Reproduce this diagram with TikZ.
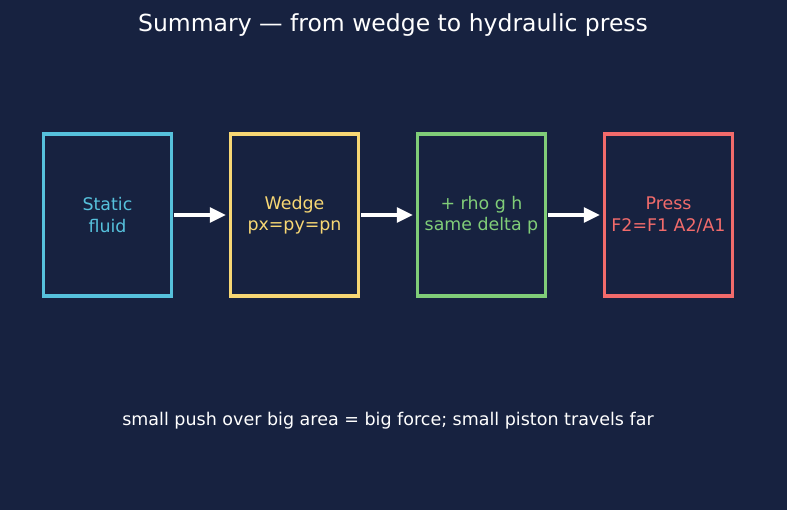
\documentclass[tikz,border=0pt]{standalone}
\usepackage{fontspec}
\setmainfont{DejaVu Sans}
\usetikzlibrary{arrows.meta}
\definecolor{bgc}{HTML}{172240}
\definecolor{cyanc}{HTML}{56C1DC}
\definecolor{yellowc}{HTML}{F7D774}
\definecolor{greenc}{HTML}{80CD78}
\definecolor{redc}{HTML}{F26B6B}
\tikzset{
  stagebox/.style={draw=#1, text=#1, line width=3.5pt, fill=bgc, minimum width=128pt, minimum height=162pt, align=center, inner sep=0pt, font=\fontsize{17.4pt}{21.5pt}\selectfont},
  flow/.style={draw=white, line width=3.2pt, -{Triangle[length=16pt,width=15pt]}, shorten <=1pt, shorten >=3pt},
}
\begin{document}
\begin{tikzpicture}[x=1pt,y=-1pt]
\fill[bgc] (0,0) rectangle (787,510);
\useasboundingbox (0,0) rectangle (787,510);
\node[text=white, font=\fontsize{23.5pt}{28pt}\selectfont] (title) at (393,25) {Summary — from wedge to hydraulic press};
\node[stagebox=cyanc] (b1) at (107.5,215) {Static\\fluid};
\node[stagebox=yellowc] (b2) at (294.5,215) {Wedge\\px=py=pn};
\node[stagebox=greenc] (b3) at (481.5,215) {+ rho g h\\same delta p};
\node[stagebox=redc] (b4) at (668.5,215) {Press\\F2=F1 A2/A1};
\draw[flow] (b1) -- (b2);
\draw[flow] (b2) -- (b3);
\draw[flow] (b3) -- (b4);
\node[text=white, font=\fontsize{17.5pt}{21pt}\selectfont] (note) at (388,420.5) {small push over big area = big force; small piston travels far};
\end{tikzpicture}
\end{document}
